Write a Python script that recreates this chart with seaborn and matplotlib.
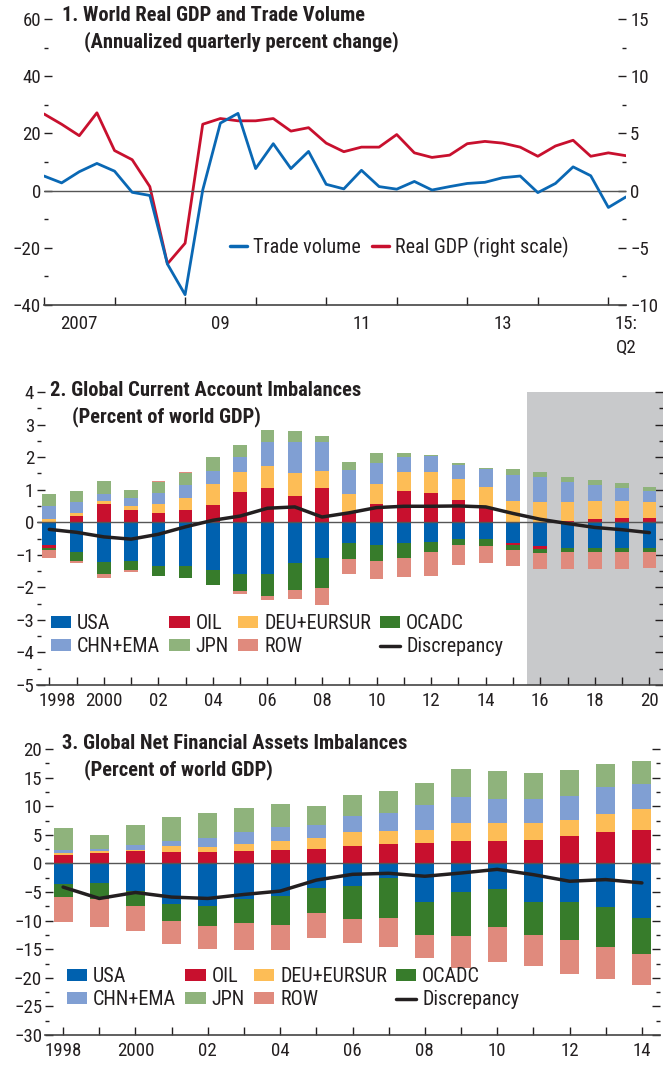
import numpy as np
import pandas as pd
import seaborn as sns
import matplotlib
matplotlib.use("Agg")
import matplotlib.pyplot as plt
from matplotlib import font_manager as fm
from matplotlib.patches import Patch
from matplotlib.lines import Line2D
from matplotlib.transforms import ScaledTranslation

# ---------------- DATA ----------------
# Panel 1: quarterly, 2007Q1 .. 2015Q2
quarters = [f"{y}Q{q}" for y in range(2007, 2016) for q in range(1, 5)][:34]
trade_volume = [5.1, 2.7, 6.6, 9.5, 6.8, -0.6, -1.7, -25.7, -36.4, 0.2, 23.6, 27.0,
                7.7, 16.4, 7.7, 13.7, 2.2, 0.6, 7.1, 1.4, 0.5, 3.2, 0.2, 1.4,
                2.5, 2.9, 4.5, 5.1, -0.7, 2.5, 8.3, 5.2, -5.9, -2.2]
real_gdp = [6.7, 5.8, 4.8, 6.8, 3.5, 2.7, 0.35, -6.4, -4.6, 5.8, 6.3, 6.1,
            6.1, 6.3, 5.2, 5.5, 4.15, 3.4, 3.8, 3.8, 4.9, 3.3, 2.9, 3.1,
            4.1, 4.3, 4.15, 3.8, 3.0, 3.9, 4.4, 3.0, 3.3, 3.05]
p1_xlabels = ["2007", "09", "11", "13", "15:\nQ2"]

# Panel 2: current account, 1998..2020
ca_years = list(range(1998, 2021))
ca_usa = [-0.69, -0.91, -1.22, -1.19, -1.35, -1.35, -1.47, -1.58, -1.58, -1.26, -1.10, -0.65,
          -0.70, -0.64, -0.61, -0.52, -0.52, -0.64, -0.73, -0.80, -0.80, -0.80, -0.80]
ca_oil = [-0.09, 0.18, 0.55, 0.37, 0.28, 0.37, 0.52, 0.92, 1.04, 0.80, 1.04, 0.29,
          0.55, 0.95, 0.89, 0.67, 0.46, -0.06, -0.10, 0.05, 0.10, 0.14, 0.14]
ca_deu = [0.09, 0.10, 0.09, 0.12, 0.27, 0.36, 0.64, 0.61, 0.70, 0.70, 0.52, 0.57,
          0.61, 0.58, 0.64, 0.65, 0.61, 0.64, 0.61, 0.58, 0.55, 0.51, 0.49]
ca_ocadc = [-0.08, -0.28, -0.36, -0.28, -0.29, -0.36, -0.46, -0.53, -0.69, -0.82, -0.92, -0.48,
            -0.49, -0.46, -0.31, -0.18, -0.21, -0.16, -0.12, -0.12, -0.12, -0.12, -0.12]
ca_chn = [0.41, 0.33, 0.22, 0.25, 0.34, 0.40, 0.40, 0.46, 0.71, 0.95, 0.89, 0.74,
          0.65, 0.46, 0.49, 0.43, 0.58, 0.80, 0.77, 0.62, 0.50, 0.41, 0.33]
ca_jpn = [0.36, 0.34, 0.40, 0.24, 0.34, 0.37, 0.43, 0.37, 0.37, 0.34, 0.21, 0.25,
          0.33, 0.15, 0.06, 0.06, 0.03, 0.18, 0.15, 0.15, 0.15, 0.16, 0.13]
ca_row = [-0.23, -0.05, -0.13, -0.06, 0.03, 0.03, 0.0, -0.09, -0.11, -0.27, -0.52, -0.46,
          -0.55, -0.58, -0.73, -0.62, -0.53, -0.49, -0.49, -0.52, -0.52, -0.52, -0.49]
ca_disc = [-0.22, -0.31, -0.45, -0.52, -0.37, -0.14, 0.06, 0.19, 0.43, 0.47, 0.16, 0.29,
           0.45, 0.49, 0.49, 0.50, 0.47, 0.27, 0.09, -0.04, -0.16, -0.23, -0.32]
ca_forecast_start = 2016

# Panel 3: net financial assets, 1998..2014
nfa_years = list(range(1998, 2015))
nfa_usa = [-3.62, -3.44, -4.84, -7.12, -7.47, -6.24, -5.72, -4.32, -3.99, -2.60, -6.76, -5.03,
           -4.51, -6.76, -6.76, -7.63, -9.54]
nfa_oil = [1.46, 1.75, 2.16, 1.98, 1.98, 2.16, 2.33, 2.51, 3.12, 3.47, 3.64, 3.99,
           3.99, 4.16, 4.86, 5.55, 5.90]
nfa_deu = [0.41, 0.41, 0.17, 1.05, 0.88, 1.22, 1.58, 1.92, 2.43, 2.25, 2.26, 3.12,
           3.12, 2.95, 2.77, 3.12, 3.64]
nfa_ocadc = [-2.27, -2.80, -2.63, -2.97, -3.50, -4.20, -5.07, -4.37, -5.72, -6.94, -5.73, -7.63,
             -6.59, -5.73, -6.59, -6.94, -6.24]
nfa_chn = [0.46, 0.41, 0.94, 0.94, 1.57, 2.10, 2.51, 2.28, 2.77, 3.12, 4.33, 4.51,
           4.16, 4.16, 4.22, 4.68, 4.33]
nfa_jpn = [3.85, 2.39, 3.44, 4.14, 4.38, 4.20, 3.97, 3.32, 3.65, 3.82, 3.82, 4.85,
           4.86, 4.51, 4.45, 3.99, 3.99]
nfa_row = [-4.38, -4.90, -4.37, -4.03, -4.02, -4.73, -4.38, -4.38, -4.16, -5.03, -3.98, -5.55,
           -6.07, -5.37, -6.07, -5.72, -5.55]
nfa_disc = [-4.14, -6.13, -5.08, -5.89, -6.13, -5.43, -4.84, -2.92, -1.91, -1.73, -2.25, -1.68,
            -1.04, -1.97, -3.12, -2.83, -3.41]

series_names = ["USA", "OIL", "DEU+EURSUR", "OCADC", "CHN+EMA", "JPN", "ROW"]
colors = {"USA": "#0061AF", "OIL": "#C8102E", "DEU+EURSUR": "#FDBD56", "OCADC": "#377C2B",
          "CHN+EMA": "#809FD3", "JPN": "#8FB37C", "ROW": "#E08A7D"}
TXT = "#231F20"

# ---------------- STYLE ----------------
sns.set_theme(style="white")
names = {f.name for f in fm.fontManager.ttflist}
FONT, STRETCH = "DejaVu Sans", "condensed"
for cand in ["Liberation Sans Narrow", "Roboto Condensed", "Open Sans Condensed",
             "Noto Sans Condensed", "DejaVu Sans Condensed"]:
    if cand in names:
        FONT, STRETCH = cand, "normal"
        break
plt.rcParams["font.family"] = [FONT, "DejaVu Sans"]
plt.rcParams["font.stretch"] = STRETCH
plt.rcParams["text.color"] = TXT
plt.rcParams["axes.labelcolor"] = TXT
plt.rcParams["xtick.color"] = TXT
plt.rcParams["ytick.color"] = TXT
plt.rcParams["axes.unicode_minus"] = True
FS = 13.6      # tick labels
LFS = 14.5     # legend
TFS = 14.8     # titles

W, H = 663, 1065
fig = plt.figure(figsize=(W / 100, H / 100), dpi=100)


def px_axes(left, right, top, bottom):
    return fig.add_axes([left / W, 1 - bottom / H, (right - left) / W, (bottom - top) / H])


def style_axes(ax, right_ticks=True):
    for s in ["top", "left", "right"]:
        ax.spines[s].set_visible(False)
    ax.spines["bottom"].set_color("#444444")
    ax.spines["bottom"].set_linewidth(1.2)
    ax.tick_params(axis="y", which="major", direction="in", length=6, width=1,
                   labelsize=FS, pad=2, left=True, right=right_ticks, labelright=False)
    ax.tick_params(axis="y", which="minor", direction="in", length=3, width=1,
                   left=True, right=right_ticks)
    ax.tick_params(axis="x", which="major", direction="in", length=6, width=1,
                   labelsize=FS, pad=5, bottom=True)
    ax.set_facecolor("none")


def title(x, y, l1, l2, x2):
    fig.text(x / W, 1 - y / H, l1, fontsize=TFS, fontweight="bold", va="top", ha="left")
    fig.text(x2 / W, 1 - (y + 25) / H, l2, fontsize=TFS, fontweight="bold", va="top", ha="left")


# ---------------- PANEL 1 ----------------
ax1 = px_axes(44, 626, 19, 305)
idx = np.arange(len(trade_volume))
df1 = pd.DataFrame({"q": idx, "trade": trade_volume, "gdp": real_gdp})
ax1.axhline(0, color="#555555", lw=1.0, zorder=1)
sns.lineplot(data=df1, x="q", y="trade", ax=ax1, color="#0A68B4", lw=2.0, zorder=3)
ax1.set_xlim(0, 33)
ax1.set_ylim(-40, 60)
ax1.set_yticks([60, 40, 20, 0, -20, -40])
ax1.set_yticks([50, 30, 10, -10, -30], minor=True)
style_axes(ax1, right_ticks=False)
ax1.set_xticks(np.arange(0, 33, 4))
ax1.set_xticklabels([])
ax1.set_xticks([2, 10, 18, 26, 33], minor=True)
ax1.set_xticklabels(p1_xlabels, minor=True)
ax1.tick_params(axis="x", which="minor", length=0, labelsize=FS, pad=7)
for lab in ax1.get_xticklabels(minor=True):
    lab.set_linespacing(1.45)
ax1.set_xlabel("")
ax1.set_ylabel("")

ax1b = ax1.twinx()
sns.lineplot(data=df1, x="q", y="gdp", ax=ax1b, color="#C8102E", lw=2.0, zorder=3)
ax1b.set_ylim(-10, 15)
ax1b.set_xlim(0, 33)
ax1b.set_yticks([15, 10, 5, 0, -5, -10])
ax1b.set_yticks([12.5, 7.5, 2.5, -2.5, -7.5], minor=True)
for s in ["top", "left", "right", "bottom"]:
    ax1b.spines[s].set_visible(False)
ax1b.tick_params(axis="y", which="major", direction="in", length=6, width=1,
                 labelsize=FS, pad=3, right=True, left=False)
ax1b.tick_params(axis="y", which="minor", direction="in", length=3, width=1, right=True, left=False)
ax1b.set_ylabel("")
ax1b.set_xlabel("")
ax1.set_zorder(ax1b.get_zorder() + 1)

h1 = [Line2D([], [], color="#0A68B4", lw=2.5), Line2D([], [], color="#C8102E", lw=2.5)]
fig.legend(h1, ["Trade volume", "Real GDP (right scale)"], loc="center left",
           bbox_to_anchor=(230 / W, 1 - 247 / H), ncol=2, frameon=False, fontsize=LFS,
           handlelength=0.85, handletextpad=0.3, columnspacing=0.55, borderpad=0,
           borderaxespad=0)
title(62, 6, "1. World Real GDP and Trade Volume", "(Annualized quarterly percent change)", 84)


# ---------------- STACKED BAR HELPER ----------------
def stacked(ax, x, data, width):
    pos = np.zeros(len(x))
    neg = np.zeros(len(x))
    for name in series_names:
        v = np.asarray(data[name], dtype=float)
        bottom = np.where(v >= 0, pos, neg)
        ax.bar(x, v, bottom=bottom, width=width, color=colors[name], linewidth=0, zorder=2)
        pos = pos + np.where(v >= 0, v, 0)
        neg = neg + np.where(v < 0, v, 0)


def bar_legend(x, y):
    handles = {n: Patch(facecolor=colors[n], edgecolor="none") for n in series_names}
    disc = Line2D([], [], color=TXT, lw=2.5)
    order = [("USA", handles["USA"]), ("CHN+EMA", handles["CHN+EMA"]),
             ("OIL", handles["OIL"]), ("JPN", handles["JPN"]),
             ("DEU+EURSUR", handles["DEU+EURSUR"]), ("ROW", handles["ROW"]),
             ("OCADC", handles["OCADC"]), ("Discrepancy", disc)]
    fig.legend([h for _, h in order], [n for n, _ in order], loc="upper left",
               bbox_to_anchor=(x / W, 1 - y / H), ncol=4, frameon=False, fontsize=LFS,
               handlelength=1.0, handleheight=0.5, handletextpad=0.3,
               columnspacing=0.45, labelspacing=0.2, borderpad=0, borderaxespad=0)


def year_labels(years):
    return [("1998" if y == 1998 else "2000" if y == 2000 else f"{y % 100:02d}") if y % 2 == 0 else ""
            for y in years]


# ---------------- PANEL 2 ----------------
ax2 = px_axes(37, 663, 392, 685)
x2 = np.arange(len(ca_years))
ax2.axvspan(ca_years.index(ca_forecast_start) - 0.5, len(ca_years) + 2, color="#C8C9CB", lw=0, zorder=0)
ca = {"USA": ca_usa, "OIL": ca_oil, "DEU+EURSUR": ca_deu, "OCADC": ca_ocadc,
      "CHN+EMA": ca_chn, "JPN": ca_jpn, "ROW": ca_row}
stacked(ax2, x2, ca, 0.5)
ax2.axhline(0, color="#555555", lw=1.0, zorder=3)
sns.lineplot(x=x2, y=ca_disc, ax=ax2, color=TXT, lw=2.5, zorder=4)
ax2.set_xlim(-0.45, 22.5)
ax2.set_ylim(-5, 4)
ax2.set_yticks(np.arange(-5, 5, 1))
ax2.set_yticks(np.arange(-4.5, 4, 1), minor=True)
style_axes(ax2)
ax2.set_yticklabels([f"{v}" if v >= 0 else f"\u2212{abs(v)}" for v in range(-5, 5)])
ax2.set_xticks(x2)
ax2.set_xticklabels(year_labels(ca_years))
first = ax2.get_xticklabels()[0]
first.set_transform(first.get_transform() + ScaledTranslation(8 / 100, 0, fig.dpi_scale_trans))
ax2.set_xlabel("")
ax2.set_ylabel("")
title(50, 381, "2. Global Current Account Imbalances", "(Percent of world GDP)", 72)
bar_legend(51, 614)

# ---------------- PANEL 3 ----------------
ax3 = px_axes(45, 660, 749, 1035)
x3 = np.arange(len(nfa_years))
nfa = {"USA": nfa_usa, "OIL": nfa_oil, "DEU+EURSUR": nfa_deu, "OCADC": nfa_ocadc,
       "CHN+EMA": nfa_chn, "JPN": nfa_jpn, "ROW": nfa_row}
stacked(ax3, x3, nfa, 0.53)
ax3.axhline(0, color="#555555", lw=1.0, zorder=3)
sns.lineplot(x=x3, y=nfa_disc, ax=ax3, color=TXT, lw=2.5, zorder=4)
ax3.set_xlim(-0.5, 16.5)
ax3.set_ylim(-30, 20)
ax3.set_yticks(np.arange(-30, 21, 5))
ax3.set_yticks(np.arange(-27.5, 20, 5), minor=True)
style_axes(ax3)
ax3.set_yticklabels([f"{v}" if v >= 0 else f"\u2212{abs(v)}" for v in range(-30, 21, 5)])
ax3.set_xticks(x3)
ax3.set_xticklabels(year_labels(nfa_years))
ax3.set_xlabel("")
ax3.set_ylabel("")
title(62, 734, "3. Global Net Financial Assets Imbalances", "(Percent of world GDP)", 84)
bar_legend(67, 967)

fig.savefig("out.png", dpi=100)
